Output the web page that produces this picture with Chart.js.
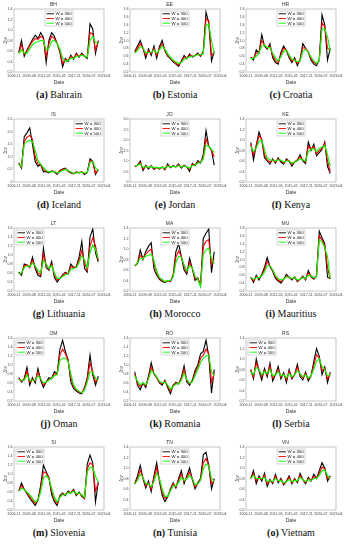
<!DOCTYPE html>
<html>
<head>
<meta charset="utf-8">
<script src="https://cdn.jsdelivr.net/npm/chart.js@4.4.1/dist/chart.umd.min.js"></script>
<style>
  html, body { margin: 0; padding: 0; background: #fff; }
  #grid { position: relative; width: 350px; height: 550px; overflow: hidden; }
  .cell { position: absolute; width: 116px; height: 110px; }
  .cell canvas { display: block; }
  .cap { position: absolute; left: 14px; right: 12px; top: 89px; text-align: center;
         font-family: "Liberation Serif", "DejaVu Serif", serif; font-size: 10px; color: #111; white-space: nowrap; }
  .cap b { font-weight: bold; }
</style>
</head>
<body>
<div id="grid"></div>
<script>
// ============ Data ============
const years = [2007.7, 2008.2, 2008.7, 2009.2, 2009.7, 2010.2, 2010.7, 2011.2, 2011.7, 2012.2,
               2012.7, 2013.2, 2013.7, 2014.2, 2014.7, 2015.2, 2015.7, 2016.2, 2016.7, 2017.2,
               2017.7, 2018.2, 2018.7, 2019.2, 2019.7, 2020.2, 2020.7, 2021.2, 2021.7, 2022.2];
const tickYears = [2006.83, 2009.58, 2012.33, 2015.08, 2017.83, 2020.5, 2023.25];
const tickLabels = ['2006-11', '2009-08', '2012-05', '2015-02', '2017-11', '2020-07', '2023-04'];
const seriesLabels = ['W = 300', 'W = 400', 'W = 500'];

const codes = ['BH', 'EE', 'HR', 'IS', 'JO', 'KE', 'LT', 'MA', 'MU', 'OM', 'RO', 'RS', 'SI', 'TN', 'VN'];
const letters = ['a', 'b', 'c', 'd', 'e', 'f', 'g', 'h', 'i', 'j', 'k', 'l', 'm', 'n', 'o'];
const names = ['Bahrain', 'Estonia', 'Croatia', 'Iceland', 'Jordan', 'Kenya', 'Lithuania', 'Morocco',
               'Mauritius', 'Oman', 'Romania', 'Serbia', 'Slovenia', 'Tunisia', 'Vietnam'];
const yMins = [0.2, 0.2, 0.2, 0, 0, 0.2, 0.2, 0.2, 0.2, 0.2, 0.2, 0.2, 0.2, 0.2, 0.2];
const yMaxs = [1.4, 1.8, 1.8, 2.5, 3, 1.4, 1.6, 1.4, 1.8, 1.6, 1.6, 1.4, 1.6, 1.4, 1.4];
const ySteps = [0.2, 0.2, 0.2, 0.5, 0.5, 0.2, 0.2, 0.2, 0.2, 0.2, 0.2, 0.2, 0.2, 0.2, 0.2];
const legendPos = ['center', 'center', 'center', 'right', 'center', 'center', 'left', 'center',
                   'center', 'left', 'center', 'left', 'left', 'center', 'center'];

// W = 300 / 400 / 500 for each country
const bh300 = [0.58,0.80,0.50,0.62,0.72,0.82,0.90,0.84,0.95,0.86,0.38,0.80,0.95,0.88,0.74,0.58,0.30,0.46,0.40,0.52,0.44,0.56,0.48,0.56,0.50,0.46,1.12,1.02,0.55,0.80];
const bh400 = [0.56,0.72,0.54,0.60,0.70,0.78,0.84,0.82,0.88,0.84,0.50,0.74,0.88,0.84,0.74,0.60,0.36,0.44,0.42,0.50,0.46,0.54,0.50,0.54,0.50,0.48,0.95,0.92,0.62,0.78];
const bh500 = [0.55,0.62,0.56,0.56,0.64,0.72,0.76,0.78,0.80,0.80,0.62,0.66,0.78,0.80,0.74,0.64,0.46,0.40,0.42,0.46,0.46,0.50,0.50,0.52,0.50,0.48,0.80,0.88,0.76,0.74];

const ee300 = [0.72,0.86,1.00,0.80,0.55,0.78,0.62,0.86,0.55,0.84,1.00,0.74,0.60,0.54,0.46,0.40,0.34,0.48,0.62,0.54,0.66,0.58,0.62,0.68,0.60,0.72,1.72,1.45,0.48,0.72];
const ee400 = [0.70,0.80,0.92,0.80,0.62,0.74,0.66,0.80,0.62,0.80,0.92,0.76,0.62,0.56,0.48,0.42,0.38,0.46,0.58,0.56,0.62,0.60,0.62,0.66,0.62,0.70,1.55,1.50,0.62,0.70];
const ee500 = [0.68,0.74,0.84,0.82,0.68,0.70,0.70,0.76,0.68,0.76,0.86,0.78,0.66,0.58,0.50,0.46,0.42,0.44,0.52,0.56,0.58,0.60,0.62,0.64,0.64,0.66,1.38,1.42,1.00,0.66];

const hr300 = [0.58,0.50,0.76,0.68,1.15,0.86,0.78,0.92,0.56,0.44,0.40,0.70,0.86,0.74,0.56,0.44,0.56,0.36,0.52,0.92,0.80,0.70,0.50,0.40,0.36,0.52,1.65,1.40,0.50,0.80];
const hr400 = [0.56,0.54,0.68,0.70,1.00,0.88,0.80,0.86,0.62,0.50,0.44,0.64,0.80,0.76,0.60,0.48,0.52,0.42,0.50,0.82,0.80,0.70,0.54,0.44,0.40,0.50,1.45,1.35,0.80,0.76];
const hr500 = [0.54,0.54,0.60,0.68,0.86,0.88,0.82,0.82,0.68,0.56,0.48,0.58,0.72,0.76,0.64,0.52,0.50,0.46,0.48,0.72,0.78,0.70,0.58,0.48,0.42,0.48,1.30,1.30,1.10,0.72];

const is300 = [0.75,0.55,1.80,1.95,2.15,1.50,0.80,0.62,0.70,0.40,0.42,0.36,0.44,0.40,0.30,0.46,0.52,0.55,0.42,0.36,0.32,0.40,0.36,0.40,0.30,0.38,0.92,0.82,0.30,0.50];
const is400 = [0.72,0.60,1.60,1.78,1.85,1.70,1.00,0.72,0.68,0.50,0.42,0.40,0.42,0.42,0.34,0.44,0.50,0.52,0.44,0.38,0.34,0.38,0.38,0.40,0.34,0.38,0.85,0.80,0.36,0.48];
const is500 = [0.70,0.62,1.50,1.60,1.65,1.62,1.25,0.85,0.70,0.58,0.46,0.40,0.40,0.42,0.36,0.40,0.46,0.50,0.46,0.40,0.34,0.36,0.38,0.38,0.36,0.36,0.78,0.82,0.56,0.44];

const jo300 = [0.72,0.80,1.00,0.55,0.80,0.62,0.78,0.60,0.70,0.62,0.72,0.58,0.86,0.68,0.78,0.72,0.86,0.66,0.80,0.72,0.50,0.88,0.78,1.02,0.90,1.30,2.45,1.70,1.50,0.80];
const jo400 = [0.74,0.80,0.92,0.62,0.76,0.66,0.76,0.64,0.70,0.64,0.70,0.62,0.80,0.70,0.76,0.72,0.82,0.70,0.78,0.72,0.60,0.84,0.80,0.96,0.92,1.20,2.05,1.70,1.50,1.20];
const jo500 = [0.76,0.80,0.86,0.70,0.74,0.70,0.74,0.68,0.70,0.66,0.70,0.66,0.76,0.72,0.74,0.72,0.78,0.72,0.76,0.72,0.66,0.78,0.80,0.90,0.92,1.10,1.75,1.70,1.55,1.40];

const ke300 = [0.95,0.62,0.90,1.15,1.00,0.66,0.60,0.54,0.64,0.56,0.66,0.58,0.54,0.64,0.60,0.50,0.58,0.62,0.72,0.60,0.55,0.96,0.80,0.92,0.70,0.76,0.82,0.96,0.50,0.36];
const ke400 = [0.92,0.72,0.88,1.08,1.02,0.72,0.62,0.58,0.62,0.58,0.64,0.60,0.56,0.62,0.60,0.54,0.58,0.62,0.68,0.62,0.58,0.88,0.82,0.88,0.74,0.80,0.84,0.94,0.60,0.40];
const ke500 = [0.88,0.78,0.84,0.98,1.00,0.82,0.66,0.62,0.62,0.60,0.62,0.62,0.58,0.60,0.60,0.56,0.58,0.60,0.64,0.62,0.60,0.78,0.82,0.84,0.78,0.84,0.86,0.90,0.72,0.50];

const lt300 = [0.62,0.55,0.80,0.78,0.72,0.95,0.70,0.55,0.52,1.15,0.72,0.66,0.86,0.50,0.40,0.48,0.56,0.62,0.58,0.80,0.72,0.74,0.95,1.30,0.70,0.62,1.40,1.58,1.05,0.85];
const lt400 = [0.60,0.58,0.76,0.78,0.74,0.88,0.74,0.60,0.56,1.02,0.78,0.68,0.80,0.56,0.44,0.48,0.54,0.60,0.58,0.74,0.72,0.74,0.88,1.10,0.82,0.66,1.20,1.38,1.20,0.88];
const lt500 = [0.58,0.60,0.72,0.76,0.74,0.82,0.76,0.66,0.60,0.88,0.80,0.70,0.76,0.60,0.48,0.48,0.52,0.56,0.58,0.68,0.70,0.72,0.82,0.98,0.90,0.72,1.05,1.22,1.12,0.92];

const ma300 = [0.68,0.72,0.98,0.80,0.95,1.05,1.12,0.62,0.50,0.42,0.38,0.36,0.40,0.38,0.50,0.95,1.10,0.85,0.60,0.52,0.82,0.62,0.40,0.45,0.30,1.20,1.30,1.38,0.55,0.95];
const ma400 = [0.68,0.74,0.88,0.82,0.90,0.96,1.00,0.72,0.54,0.44,0.40,0.37,0.40,0.39,0.48,0.84,0.96,0.86,0.66,0.56,0.74,0.64,0.44,0.44,0.32,1.05,1.15,1.18,0.70,0.82];
const ma500 = [0.68,0.74,0.82,0.82,0.86,0.88,0.90,0.78,0.58,0.46,0.42,0.38,0.40,0.40,0.46,0.74,0.86,0.84,0.70,0.58,0.68,0.64,0.48,0.42,0.28,0.90,0.98,1.02,0.82,0.72];

const mu300 = [0.55,0.42,0.60,0.48,0.62,0.80,1.05,0.82,0.70,0.52,0.45,0.40,0.50,0.62,0.55,0.48,0.56,0.44,0.50,0.58,0.48,0.72,0.56,0.50,0.60,1.72,1.55,1.40,0.55,0.52];
const mu400 = [0.55,0.46,0.56,0.52,0.60,0.74,0.95,0.84,0.72,0.56,0.48,0.44,0.50,0.58,0.55,0.50,0.54,0.46,0.50,0.56,0.50,0.66,0.58,0.52,0.58,1.60,1.50,1.35,0.80,0.50];
const mu500 = [0.54,0.50,0.54,0.54,0.58,0.68,0.84,0.84,0.74,0.60,0.52,0.48,0.50,0.56,0.55,0.52,0.54,0.48,0.50,0.54,0.52,0.60,0.58,0.54,0.56,1.50,1.45,1.30,1.08,0.52];

const om300 = [0.72,0.62,0.70,0.95,0.55,0.72,0.60,0.92,0.66,0.50,0.62,0.72,0.70,0.85,0.80,1.35,1.55,1.30,1.12,0.62,0.48,0.42,0.38,0.36,0.50,0.72,1.22,0.78,0.55,0.75];
const om400 = [0.70,0.64,0.68,0.86,0.62,0.68,0.64,0.84,0.68,0.56,0.62,0.68,0.70,0.80,0.80,1.22,1.35,1.25,1.10,0.72,0.52,0.44,0.40,0.38,0.48,0.68,1.05,0.85,0.62,0.70];
const om500 = [0.68,0.66,0.66,0.78,0.66,0.66,0.66,0.76,0.70,0.60,0.62,0.66,0.70,0.76,0.78,1.10,1.15,1.15,1.08,0.80,0.56,0.46,0.42,0.38,0.44,0.62,0.85,0.84,0.70,0.66];

const ro300 = [0.85,0.55,0.45,0.60,0.50,0.75,1.05,0.80,0.72,0.60,0.55,0.66,0.50,0.36,0.55,0.62,0.58,0.72,0.98,0.62,0.55,0.66,0.88,1.00,1.25,1.30,1.55,1.20,0.38,0.90];
const ro400 = [0.80,0.60,0.52,0.60,0.54,0.72,0.95,0.82,0.72,0.62,0.58,0.64,0.54,0.42,0.54,0.60,0.58,0.70,0.90,0.66,0.58,0.64,0.82,0.95,1.15,1.22,1.35,1.25,0.62,0.82];
const ro500 = [0.76,0.64,0.56,0.60,0.56,0.68,0.88,0.82,0.74,0.64,0.60,0.62,0.56,0.46,0.52,0.58,0.58,0.66,0.82,0.68,0.60,0.62,0.76,0.90,1.05,1.15,1.20,1.22,0.85,0.76];

const rs300 = [0.80,0.62,1.00,0.78,0.60,0.82,0.66,0.92,0.58,0.70,0.86,0.62,0.74,0.55,0.80,0.62,0.70,0.90,0.66,0.60,0.75,0.58,0.68,0.95,1.20,1.05,0.70,0.85,0.55,0.75];
const rs400 = [0.78,0.66,0.92,0.80,0.66,0.78,0.70,0.86,0.64,0.70,0.80,0.66,0.72,0.60,0.76,0.64,0.70,0.84,0.70,0.64,0.72,0.62,0.68,0.88,1.08,1.02,0.78,0.82,0.62,0.72];
const rs500 = [0.76,0.70,0.84,0.80,0.70,0.76,0.72,0.80,0.68,0.70,0.76,0.68,0.70,0.64,0.72,0.66,0.70,0.78,0.72,0.66,0.70,0.64,0.68,0.80,0.96,1.00,0.86,0.80,0.68,0.70];

const si300 = [0.62,0.80,0.66,0.56,0.46,0.38,0.30,0.42,0.75,1.20,1.05,0.92,0.55,0.38,0.30,0.52,0.58,0.52,0.62,0.58,0.66,0.52,0.60,0.50,0.45,1.22,1.42,1.25,0.38,0.82];
const si400 = [0.62,0.74,0.66,0.58,0.50,0.42,0.34,0.42,0.68,1.05,1.02,0.92,0.62,0.42,0.34,0.50,0.56,0.54,0.60,0.58,0.64,0.54,0.58,0.52,0.46,1.12,1.25,1.20,0.62,0.80];
const si500 = [0.62,0.68,0.66,0.60,0.54,0.46,0.38,0.42,0.60,0.92,0.96,0.90,0.68,0.48,0.38,0.48,0.54,0.54,0.58,0.58,0.62,0.56,0.58,0.54,0.48,1.05,1.15,1.15,0.95,0.82];

const tn300 = [0.70,0.85,1.05,0.80,0.62,0.75,0.55,0.85,1.10,0.75,0.48,0.36,0.45,0.60,0.72,0.62,0.80,0.95,0.70,0.85,1.00,0.78,0.60,0.72,0.80,1.25,1.30,1.05,0.60,0.80];
const tn400 = [0.70,0.80,0.96,0.82,0.66,0.72,0.60,0.80,1.00,0.78,0.54,0.42,0.46,0.58,0.70,0.64,0.76,0.88,0.74,0.82,0.92,0.80,0.64,0.70,0.78,1.10,1.18,1.05,0.70,0.76];
const tn500 = [0.70,0.76,0.88,0.82,0.70,0.70,0.64,0.74,0.90,0.80,0.60,0.46,0.46,0.56,0.66,0.66,0.72,0.82,0.76,0.80,0.86,0.80,0.68,0.70,0.76,0.98,1.08,1.04,0.80,0.74];

const vn300 = [0.80,0.95,0.70,0.85,0.75,0.90,0.65,0.78,0.70,0.88,0.72,0.80,0.68,0.75,0.85,0.70,0.80,0.72,0.90,0.78,0.70,0.82,0.75,0.88,0.80,0.95,1.10,1.00,0.75,0.85];
const vn400 = [0.80,0.90,0.76,0.82,0.78,0.86,0.70,0.76,0.72,0.84,0.74,0.78,0.70,0.74,0.82,0.72,0.78,0.74,0.86,0.78,0.72,0.80,0.76,0.84,0.80,0.90,1.02,0.98,0.80,0.82];
const vn500 = [0.80,0.86,0.80,0.80,0.80,0.82,0.74,0.76,0.74,0.80,0.76,0.76,0.72,0.74,0.78,0.74,0.76,0.76,0.82,0.78,0.74,0.78,0.76,0.80,0.80,0.86,0.95,0.96,0.86,0.80];

const allSeries = [
  [bh300, bh400, bh500], [ee300, ee400, ee500], [hr300, hr400, hr500],
  [is300, is400, is500], [jo300, jo400, jo500], [ke300, ke400, ke500],
  [lt300, lt400, lt500], [ma300, ma400, ma500], [mu300, mu400, mu500],
  [om300, om400, om500], [ro300, ro400, ro500], [rs300, rs400, rs500],
  [si300, si400, si500], [tn300, tn400, tn500], [vn300, vn400, vn500]
];
const lineColors = ['#000000', '#ff0000', '#00ff00'];

// ============ Plugins ============
// box round the plot area
const frameBox = {
  id: 'frameBox',
  afterDraw(chart) {
    const a = chart.chartArea, ctx = chart.ctx;
    ctx.save();
    ctx.strokeStyle = '#8a8a8a';
    ctx.lineWidth = 0.5;
    ctx.strokeRect(a.left, a.top, a.right - a.left, a.bottom - a.top);
    ctx.restore();
  }
};

// small legend inside the plot
const boxLegend = {
  id: 'boxLegend',
  afterDatasetsDraw(chart, args, opts) {
    const a = chart.chartArea, ctx = chart.ctx;
    const w = 28, h = 15;
    let x = (a.left + a.right) / 2 - w / 2;
    if (opts.pos === 'left') x = a.left + 2;
    if (opts.pos === 'right') x = a.right - w - 2;
    const y = a.top + 2;
    ctx.save();
    ctx.fillStyle = '#fff';
    ctx.fillRect(x, y, w, h);
    ctx.strokeStyle = '#9a9a9a';
    ctx.lineWidth = 0.4;
    ctx.strokeRect(x, y, w, h);
    ctx.font = '4.3px Arial, "Liberation Sans", sans-serif';
    ctx.textBaseline = 'middle';
    chart.data.datasets.forEach((ds, i) => {
      const ry = y + 2.8 + i * 4.7;
      ctx.strokeStyle = ds.borderColor;
      ctx.lineWidth = 0.9;
      ctx.beginPath();
      ctx.moveTo(x + 1.5, ry);
      ctx.lineTo(x + 9, ry);
      ctx.stroke();
      ctx.fillStyle = '#111';
      ctx.fillText(ds.label, x + 10.5, ry + 0.2);
    });
    ctx.restore();
  }
};

// ============ Build panels ============
const grid = document.getElementById('grid');
const colX = [0, 116, 232];
const rowY = [0, 109.5, 219, 328.5, 438];

codes.forEach((code, p) => {
  const cell = document.createElement('div');
  cell.className = 'cell';
  cell.style.left = colX[p % 3] + 'px';
  cell.style.top = rowY[Math.floor(p / 3)] + 'px';
  const canvas = document.createElement('canvas');
  canvas.width = 116;
  canvas.height = 86;
  cell.appendChild(canvas);
  const cap = document.createElement('div');
  cap.className = 'cap';
  cap.innerHTML = '<b>(' + letters[p] + ')</b> ' + names[p];
  cell.appendChild(cap);
  grid.appendChild(cell);

  const datasets = allSeries[p].map((vals, s) => ({
    label: seriesLabels[s],
    data: vals.map((v, i) => ({ x: years[i], y: v })),
    borderColor: lineColors[s],
    borderWidth: 1.1,
    pointRadius: 0,
    tension: 0,
    order: 3 - s
  }));

  new Chart(canvas, {
    type: 'line',
    data: { datasets },
    plugins: [frameBox, boxLegend],
    options: {
      responsive: false,
      animation: false,
      events: [],
      layout: { padding: { left: 3, right: 12, top: 0, bottom: 0 } },
      plugins: {
        legend: { display: false },
        tooltip: { enabled: false },
        title: {
          display: true,
          text: code,
          color: '#333',
          font: { size: 5, family: 'Arial, "Liberation Sans", sans-serif', weight: 'normal' },
          padding: { top: 2, bottom: 1 }
        },
        boxLegend: { pos: legendPos[p] }
      },
      scales: {
        x: {
          type: 'linear',
          min: tickYears[0],
          max: tickYears[tickYears.length - 1],
          afterBuildTicks: (scale) => { scale.ticks = tickYears.map(v => ({ value: v })); },
          grid: { display: false, drawTicks: false },
          border: { display: false },
          ticks: {
            maxRotation: 0, autoSkip: false, padding: 2, color: '#444',
            font: { size: 3.6, family: 'Arial, "Liberation Sans", sans-serif' },
            callback: (v, i) => tickLabels[i]
          },
          title: {
            display: true, text: 'Date', color: '#333', padding: 0,
            font: { size: 5, family: 'Arial, "Liberation Sans", sans-serif' }
          },
          afterFit: (scale) => { scale.height = 14; }
        },
        y: {
          min: yMins[p],
          max: yMaxs[p],
          grid: { display: false, drawTicks: false },
          border: { display: false },
          ticks: {
            stepSize: ySteps[p], padding: 1.5, color: '#444',
            font: { size: 3.6, family: 'Arial, "Liberation Sans", sans-serif' }
          },
          title: {
            display: true, text: 'Δw', color: '#333', padding: 0,
            font: { size: 4.5, family: 'Arial, "Liberation Sans", sans-serif' }
          },
          afterFit: (scale) => { scale.width = 11; }
        }
      }
    }
  });
});
</script>
</body>
</html>
